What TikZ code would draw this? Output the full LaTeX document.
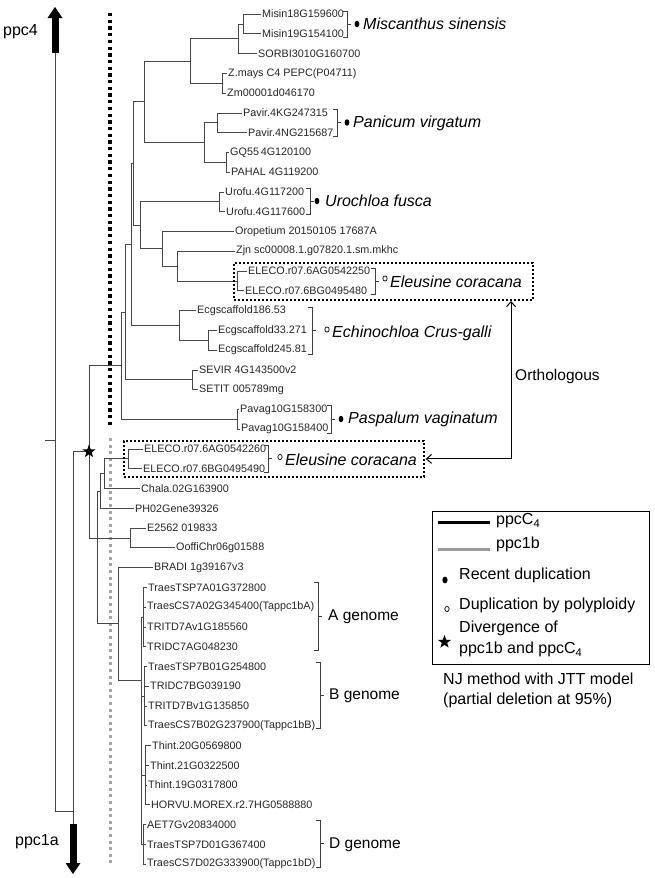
\documentclass[tikz,border=0pt]{standalone}
\usepackage{fontspec}
\setmainfont{Liberation Sans}
\usetikzlibrary{arrows.meta,shapes.geometric}
\newcommand\mybrack[3]{%
  \draw[brk] ({#1-4},#2) -- (#1,#2) -- (#1,#3) -- ({#1-4},#3);
  \draw[brk] (#1,{(#2+#3)/2}) -- ({#1+3.5},{(#2+#3)/2});}
\begin{document}
\begin{tikzpicture}[x=1pt,y=-1pt,
  br/.style={draw=black!72, line width=0.8pt},
  brk/.style={draw=black!75, line width=0.8pt},
  leaf/.style={anchor=west, inner xsep=1.5pt, inner ysep=0pt, font=\fontsize{10.8}{12}\selectfont, text=black!85},
  spname/.style={anchor=west, inner sep=0pt, font=\fontsize{16}{19}\selectfont\itshape},
  bigtext/.style={anchor=west, inner sep=0pt, font=\fontsize{16}{19}\selectfont},
  gentext/.style={anchor=west, inner sep=0pt, font=\fontsize{15.5}{18}\selectfont},
  dotbox/.style={draw, line width=1.8pt, dash pattern=on 2pt off 2pt, inner sep=0pt, anchor=north west},
  starnode/.style={star, star points=5, star point ratio=2.5, fill=black, inner sep=0pt, minimum size=14pt},
]
\useasboundingbox (0,0) rectangle (654,878);

% dotted group lines
\draw[line width=4pt, dash pattern=on 3.3pt off 3.4pt] (110,13) -- (110,428);
\draw[line width=3pt, black!35, dash pattern=on 3pt off 3.6pt] (110,438) -- (110,863);

% leaves
\foreach \n/\x/\y/\t in {
 misA/262/14.0/{Misin18G159600},
 misB/262/33.8/{Misin19G154100},
 sorbi/258/53.5/{SORBI3010G160700},
 zmays/228/73.3/{Z.mays C4 PEPC(P04711)},
 zm/227/93.1/{Zm00001d046170},
 pavK/243/112.9/{Pavir.4KG247315},
 pavN/248/132.6/{Pavir.4NG215687},
 gq/230/152.4/{GQ55\,4G120100},
 pahal/231/172.2/{PAHAL 4G119200},
 uroA/225/191.9/{Urofu.4G117200},
 uroB/226/211.7/{Urofu.4G117600},
 oro/235/231.5/{Oropetium 20150105 17687A},
 zjn/236/251.2/{Zjn sc00008.1.g07820.1.sm.mkhc},
 elA/248/271.0/{ELECO.r07.6AG0542250},
 elB/245/290.8/{ELECO.r07.6BG0495480},
 ecgA/197/310.6/{Ecgscaffold186.53},
 ecgB/218/330.3/{Ecgscaffold33.271},
 ecgC/218/350.1/{Ecgscaffold245.81},
 sevir/199/369.9/{SEVIR 4G143500v2},
 setit/199/389.6/{SETIT 005789mg},
 pvgA/240/409.4/{Pavag10G158300},
 pvgB/241/429.2/{Pavag10G158400},
 elC/144/448.9/{ELECO.r07.6AG0542260},
 elD/143/468.7/{ELECO.r07.6BG0495490},
 chala/141/488.5/{Chala.02G163900},
 ph/135/508.3/{PH02Gene39326},
 eA/147/528.0/{E2562 019833},
 ooffi/176/547.8/{OoffiChr06g01588},
 bradi/154/567.6/{BRADI 1g39167v3},
 wAa/148/587.3/{TraesTSP7A01G372800},
 wAb/147/607.1/{TraesCS7A02G345400(Tappc1bA)},
 wAc/147/626.9/{TRITD7Av1G185560},
 wAd/147/646.7/{TRIDC7AG048230},
 wBa/148/666.4/{TraesTSP7B01G254800},
 wBb/150/686.2/{TRIDC7BG039190},
 wBc/148/706.0/{TRITD7Bv1G135850},
 wBd/148/725.7/{TraesCS7B02G237900(Tappc1bB)},
 wTa/152/745.5/{Thint.20G0569800},
 wTb/150/765.3/{Thint.21G0322500},
 wTc/148/785.1/{Thint.19G0317800},
 wTd/151/804.8/{HORVU.MOREX.r2.7HG0588880},
 wDa/147/824.6/{AET7Gv20834000},
 wDb/147/844.4/{TraesTSP7D01G367400},
 wDc/147/864.1/{TraesCS7D02G333900(Tappc1bD)}}
 \node[leaf] (\n) at (\x-1.5,\y) {\t};

% internal nodes
\foreach \n/\x/\y in {nMis/243/23.9, nMS/238/38.7, nZ/222/83.2, nMSZ/190/61.0,
 nPav/217/122.8, nGQ/226/162.3, nPG/204/142.5, nA/144/101.8, nUro/219/201.8,
 nElA/237/280.9, nZjn/177/266.0, nOro/162/248.8, nB/140/225.3, nAB/133/163.6,
 nEcgB/208/340.2, nEcg/179/325.4, nABE/131/244.5, nSev/192/379.8, nABES/125/312.2,
 nPvg/237/419.3, nCf/121/365.8, nElB/128/458.8, nCh/104/473.7, nPH/100/490.9,
 nEA/130/537.9, nWA/143/617.0, nWB/144/696.1, nWT/145/775.2, nWD/143/844.4,
 nWh/141/680, nBW/118/623.8, nQ/97/537.9, rootc/89/451.5, outc/73/451.5}
 \coordinate (\n) at (\x,\y);

% branches
\foreach \p/\c in {nMis/misA.west, nMis/misB.west, nMS/nMis, nMS/sorbi.west,
 nZ/zmays.west, nZ/zm.west, nMSZ/nMS, nMSZ/nZ,
 nPav/pavK.west, nPav/pavN.west, nGQ/gq.west, nGQ/pahal.west, nPG/nPav, nPG/nGQ,
 nA/nMSZ, nA/nPG, nUro/uroA.west, nUro/uroB.west, nElA/elA.west, nElA/elB.west,
 nZjn/zjn.west, nZjn/nElA, nOro/oro.west, nOro/nZjn, nB/nUro, nB/nOro,
 nAB/nA, nAB/nB, nEcgB/ecgB.west, nEcgB/ecgC.west, nEcg/ecgA.west, nEcg/nEcgB,
 nABE/nAB, nABE/nEcg, nSev/sevir.west, nSev/setit.west, nABES/nABE, nABES/nSev,
 nPvg/pvgA.west, nPvg/pvgB.west, nCf/nABES, nCf/nPvg,
 rootc/nCf, rootc/nQ,
 nElB/elC.west, nElB/elD.west, nCh/nElB, nCh/chala.west, nPH/nCh, nPH/ph.west,
 nEA/eA.west, nEA/ooffi.west, nQ/nPH, nQ/nEA, nQ/nBW, nBW/bradi.west, nBW/nWh,
 nWh/nWA, nWh/nWB, nWh/nWT, nWh/nWD,
 nWA/wAa.west, nWA/wAb.west, nWA/wAc.west, nWA/wAd.west,
 nWB/wBa.west, nWB/wBb.west, nWB/wBc.west, nWB/wBd.west,
 nWT/wTa.west, nWT/wTb.west, nWT/wTc.west, nWT/wTd.west,
 nWD/wDa.west, nWD/wDb.west, nWD/wDc.west}
 \draw[br] (\p) |- (\c);

% outgroup lines and arrows
\coordinate (c4top) at (55,53);
\coordinate (c4bot) at (55,811);
\coordinate (c1top) at (73,824);
\draw[br] (rootc) -- (outc) -- (c1top);
\draw[br] (c4top) -- (c4bot) -- (c4bot -| outc);
\draw[br] (45,440) -- (55,440);
\fill (51.5,53) rectangle (58.5,17);
\fill (47.5,18) -- (55,7) -- (62.5,18) -- cycle;
\fill (69.5,824) rectangle (76.5,864);
\fill (65.5,863) -- (73,874) -- (80.5,863) -- cycle;
\node[bigtext] (lppc4) at (3,32) {ppc4};
\node[bigtext] (lppc1a) at (15,842) {ppc1a};

% divergence star
\node[starnode] (star1) at (rootc) {};

% species brackets
\mybrack{347}{11}{37}
\fill (357,24) ellipse [x radius=2.4pt, y radius=3.2pt];
\node[spname] (sMis) at (363,24) {Miscanthus sinensis};
\mybrack{337}{109}{136}
\fill (347,122.5) ellipse [x radius=2.4pt, y radius=3.2pt];
\node[spname] (sPan) at (353,123) {Panicum virgatum};
\mybrack{310}{188}{214}
\fill (317,201) ellipse [x radius=2.4pt, y radius=3.2pt];
\node[spname] (sUro) at (325,201) {Urochloa fusca};
\mybrack{375}{268}{294}
\draw[line width=0.7pt] (385,278.5) ellipse [x radius=2.2pt, y radius=2.6pt];
\node[spname] (sEl1) at (390,282) {Eleusine coracana};
\mybrack{312}{307}{354}
\draw[line width=0.7pt] (327,329.5) ellipse [x radius=2.2pt, y radius=2.6pt];
\node[spname] (sEcg) at (332,333) {Echinochloa Crus-galli};
\mybrack{331}{405}{433}
\fill (341,419) ellipse [x radius=2.4pt, y radius=3.2pt];
\node[spname] (sPas) at (348,419) {Paspalum vaginatum};
\mybrack{268}{445}{472}
\draw[line width=0.7pt] (280,457) ellipse [x radius=2.2pt, y radius=2.6pt];
\node[spname] (sEl2) at (285,460) {Eleusine coracana};

% genome brackets
\mybrack{318}{582}{650}
\node[gentext] (gA) at (328,617) {A genome};
\mybrack{320}{662}{728}
\node[gentext] (gB) at (329,696) {B genome};
\mybrack{320}{820}{867}
\node[gentext] (gD) at (329,845) {D genome};

% dotted boxes and orthologous arrow
\node[dotbox, minimum width=299pt, minimum height=37pt] (box1) at (233,262) {};
\node[dotbox, minimum width=300pt, minimum height=36pt] (box2) at (123,440) {};
\coordinate (orthTop) at (511,301);
\draw[line width=1pt, {Straight Barb[length=5pt,width=9pt]}-{Straight Barb[length=5pt,width=9pt]}, shorten <=1pt] (box2.east) -| (orthTop);
\node[gentext] (orth) at (515,376) {Orthologous};

% legend
\node[draw, line width=1pt, minimum width=217pt, minimum height=153pt, inner sep=0pt, anchor=north west] (legend) at (432,511) {};
\coordinate (lgA1) at (438,522); \coordinate (lgA2) at (490,522);
\coordinate (lgB1) at (438,549); \coordinate (lgB2) at (490,549);
\draw[line width=3pt] (lgA1) -- (lgA2);
\draw[line width=3pt, black!40] (lgB1) -- (lgB2);
\node[bigtext] (tC4) at (496,521) {ppcC\textsubscript{4}};
\node[bigtext] (t1b) at (496,544) {ppc1b};
\fill (445,580) ellipse [x radius=2.6pt, y radius=3.4pt];
\node[bigtext] (tRec) at (459,575) {Recent duplication};
\draw[line width=0.7pt] (447,609) ellipse [x radius=2.2pt, y radius=2.6pt];
\node[bigtext] (tPoly) at (459,605) {Duplication by polyploidy};
\node[starnode] (star2) at (444.5,642) {};
\node[bigtext, align=left, font=\fontsize{16}{21}\selectfont] (tDiv) at (459,639) {Divergence of\\ppc1b and ppcC\textsubscript{4}};
\node[bigtext, align=left, font=\fontsize{16}{20}\selectfont] (tNJ) at (443,690) {NJ method with JTT model\\(partial deletion at 95\%)};
\end{tikzpicture}
\end{document}
